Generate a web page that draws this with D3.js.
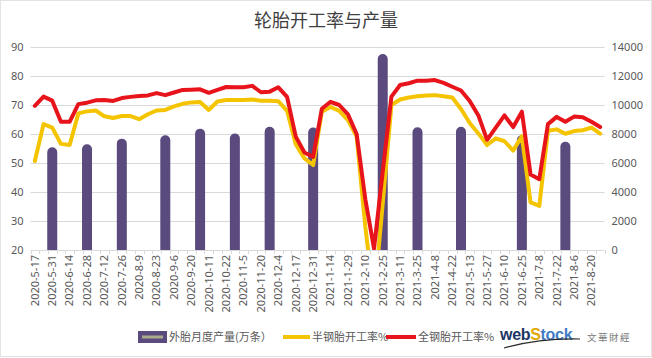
<!DOCTYPE html>
<html><head><meta charset="utf-8">
<script src="https://cdn.jsdelivr.net/npm/d3@7"></script>
<style>
html,body{margin:0;padding:0;background:#fff;}
svg{display:block;font-family:"Noto Sans CJK SC","Noto Sans",sans-serif;}
</style></head>
<body><svg id="c" width="652" height="358"></svg>
<script>
const title = "轮胎开工率与产量";
const dates = ["2020-5-17","2020-5-24","2020-5-31","2020-6-7","2020-6-14","2020-6-21","2020-6-28","2020-7-5","2020-7-12","2020-7-19",
"2020-7-26","2020-8-2","2020-8-9","2020-8-16","2020-8-23","2020-8-30","2020-9-6","2020-9-13","2020-9-20","2020-9-27",
"2020-10-11","2020-10-15","2020-10-22","2020-10-29","2020-11-5","2020-11-12","2020-11-20","2020-11-26","2020-12-4","2020-12-10",
"2020-12-17","2020-12-24","2020-12-31","2021-1-7","2021-1-14","2021-1-21","2021-1-29","2021-2-4","2021-2-10","2021-2-18",
"2021-2-25","2021-3-4","2021-3-11","2021-3-18","2021-3-25","2021-4-1","2021-4-8","2021-4-15","2021-4-22","2021-4-29",
"2021-5-13","2021-5-20","2021-5-27","2021-6-3","2021-6-10","2021-6-17","2021-6-25","2021-7-1","2021-7-8","2021-7-15",
"2021-7-22","2021-7-29","2021-8-6","2021-8-12","2021-8-20","2021-8-27"];
const semiSteel = [50.7,63.4,62.2,56.6,56.2,67.1,67.8,68.1,66.1,65.5,
66.2,66.2,65.1,66.8,68.1,68.3,69.5,70.4,70.9,71.0,
68.3,71.2,71.7,71.7,71.7,71.9,71.5,71.5,71.3,68.0,
56.5,51.6,49.3,67.7,69.3,68.0,64.8,59.1,28,3,
36,70.0,71.9,72.6,73.0,73.3,73.4,73.0,72.6,68.6,
63.8,60.2,56.2,58.5,57.5,54.3,59.2,36.4,35.2,61.1,
61.6,60.1,61.0,61.3,62.2,60.1];
const allSteel = [69.7,72.9,71.5,64.2,64.2,70.3,70.8,71.6,71.7,71.4,
72.4,72.8,73.1,73.3,74.1,73.4,74.3,75.2,75.3,75.4,
74.2,75.2,76.2,76.1,76.1,76.6,74.4,74.6,76.1,72.8,
59.1,53.6,52.1,68.7,71.1,70.0,66.8,60.0,37.5,20.5,
47,72.9,76.9,77.5,78.4,78.4,78.6,77.6,76.3,75.0,
71.4,66.4,58.0,62.2,66.4,62.4,67.7,46.0,44.4,63.4,
65.9,64.2,66.0,65.8,64.2,62.4];
const prodDates = ["2020-5-31","2020-6-28","2020-7-26","2020-8-30","2020-9-27","2020-10-29","2020-11-26","2020-12-31","2021-2-25","2021-3-25","2021-4-29","2021-6-25","2021-7-29"];
const production = [7080,7290,7680,7910,8370,8040,8500,8440,13520,8460,8500,7920,7460];
const leftTicks = [20,30,40,50,60,70,80,90];
const rightTicks = [0,2000,4000,6000,8000,10000,12000,14000];
const tickLabels = dates.filter((d,i)=>i%2===0);
const legendNames = ["外胎月度产量(万条）","半钢胎开工率%","全钢胎开工率%"];

const svg = d3.select("#c");
const L = 30.5, R = 604.5, T = 47, B = 250;
const x = d3.scaleBand().domain(dates).range([L,R]).padding(0);
const yL = d3.scaleLinear().domain([20,90]).range([B,T]);
const yR = d3.scaleLinear().domain([0,14000]).range([B,T]);
const txt = "#595959", grid = "#d9d9d9";

svg.append("rect").attr("x",0.5).attr("y",0.5).attr("width",651).attr("height",356)
  .attr("fill","#fff").attr("stroke","#e3e3e3");

svg.append("text").attr("x",326).attr("y",27).attr("text-anchor","middle")
  .attr("font-size",18).attr("fill","#404040").text(title);

// gridlines
svg.append("g").selectAll("line").data(leftTicks).join("line")
  .attr("x1",L).attr("x2",R).attr("y1",d=>Math.round(yL(d))+0.5).attr("y2",d=>Math.round(yL(d))+0.5)
  .attr("stroke",grid).attr("stroke-width",1);

// left axis
const gl = svg.append("g").attr("transform",`translate(${L-7},0)`)
  .call(d3.axisLeft(yL).tickValues(leftTicks).tickSize(0).tickPadding(0));
gl.select(".domain").remove();
gl.selectAll("text").attr("font-size",11).attr("fill",txt).attr("font-family","Noto Sans, sans-serif");

// right axis
const gr = svg.append("g").attr("transform",`translate(${R+7},0)`)
  .call(d3.axisRight(yR).tickValues(rightTicks).tickSize(0).tickPadding(0).tickFormat(d3.format("d")));
gr.select(".domain").remove();
gr.selectAll("text").attr("font-size",11).attr("fill",txt).attr("font-family","Noto Sans, sans-serif");

// x ticks between categories
const bounds = dates.map(d=>x(d)).concat([R]);
svg.append("g").selectAll("line").data(bounds).join("line")
  .attr("x1",d=>Math.round(d)+0.5).attr("x2",d=>Math.round(d)+0.5).attr("y1",B).attr("y2",B+4)
  .attr("stroke",grid);

// x labels
const gx = svg.append("g").attr("transform",`translate(0,${B})`)
  .call(d3.axisBottom(x).tickValues(tickLabels).tickSize(0));
gx.select(".domain").remove();
gx.selectAll("text").attr("font-size",11).attr("fill",txt).attr("font-family","Noto Sans, sans-serif")
  .attr("text-anchor","end").attr("transform","translate(0,5) rotate(-90)")
  .attr("x",0).attr("y",0).attr("dy","0.35em");

// clip
svg.append("clipPath").attr("id","pc").append("rect").attr("x",L-5).attr("y",T-20).attr("width",R-L+10).attr("height",B-T+20);
const plot = svg.append("g").attr("clip-path","url(#pc)");

// bars with rounded tops
const bw = 10, r = 5;
plot.selectAll("path.bar").data(prodDates.map((d,i)=>({d,v:production[i]}))).join("path")
  .attr("class","bar").attr("fill","#5b4a7d")
  .attr("d",p=>{const cx=x(p.d)+x.bandwidth()/2, top=yR(p.v);
    return `M${cx-bw/2},${B}V${top+r}A${r},${r} 0 0 1 ${cx+bw/2},${top+r}V${B}Z`;});

const line = yScale => d3.line().x((v,i)=>x(dates[i])+x.bandwidth()/2).y(v=>yScale(v));
plot.append("path").datum(semiSteel).attr("d",line(yL)).attr("fill","none")
  .attr("stroke","#f5c400").attr("stroke-width",4).attr("stroke-linejoin","round").attr("stroke-linecap","round");
plot.append("path").datum(allSteel).attr("d",line(yL)).attr("fill","none")
  .attr("stroke","#e8141b").attr("stroke-width",4).attr("stroke-linejoin","round").attr("stroke-linecap","round");

// legend
const ly = 337;
const lg = svg.append("g");
lg.append("rect").attr("x",138).attr("y",331).attr("width",29).attr("height",12).attr("fill","#5b4a7d");
lg.append("line").attr("x1",142).attr("x2",163).attr("y1",ly).attr("y2",ly).attr("stroke","#aaa98a").attr("stroke-width",3);
lg.append("text").attr("x",169).attr("y",ly+4).attr("font-size",11).attr("fill",txt).text(legendNames[0]);
lg.append("line").attr("x1",283).attr("x2",310).attr("y1",ly).attr("y2",ly).attr("stroke","#f5c400").attr("stroke-width",4);
lg.append("text").attr("x",312).attr("y",ly+4).attr("font-size",11).attr("fill",txt).text(legendNames[1]);
lg.append("line").attr("x1",386).attr("x2",416).attr("y1",ly).attr("y2",ly).attr("stroke","#e8141b").attr("stroke-width",4);
lg.append("text").attr("x",418).attr("y",ly+4).attr("font-size",11).attr("fill",txt).text(legendNames[2]);

// logo
const logo = svg.append("g");
const lt = logo.append("text").attr("x",500).attr("y",340).attr("font-size",16).attr("font-weight","bold")
  .attr("font-family","Liberation Sans, Arial, sans-serif").attr("letter-spacing","-0.3");
lt.append("tspan").attr("fill","#1d3566").text("web");
lt.append("tspan").attr("fill","#e0a800").text("S");
lt.append("tspan").attr("fill","#3f7cc4").text("tock");
logo.append("path").attr("d","M504,348 Q540,338 580,339").attr("fill","none").attr("stroke","#2a2a2a").attr("stroke-width",1.2);
logo.append("text").attr("x",587).attr("y",341).attr("font-size",9.5).attr("fill","#7a7a7a").attr("letter-spacing","1.5").text("文華財經");
</script></body></html>
